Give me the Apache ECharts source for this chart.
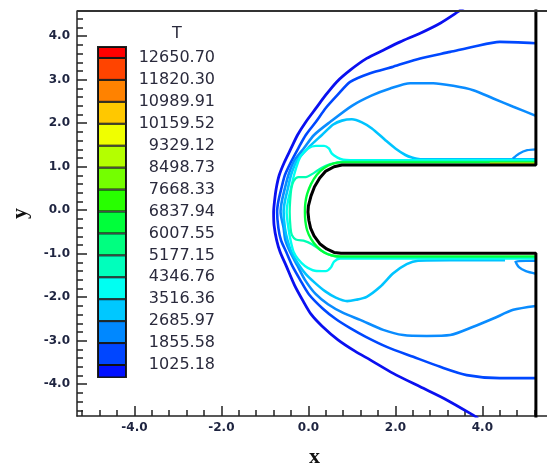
<!DOCTYPE html>
<html>
<head>
<meta charset="utf-8">
<script src="https://cdn.jsdelivr.net/npm/echarts@6/dist/echarts.min.js"></script>
<style>
  html, body { margin: 0; padding: 0; background: #fff; }
  #chart { width: 547px; height: 467px; }
</style>
</head>
<body>
<div id="chart"></div>
<script>
// Temperature contour levels shown on the colour bar (bottom to top)
const levels = [1025.18, 1855.58, 2685.97, 3516.36, 4346.76, 5177.15, 6007.55, 6837.94,
                7668.33, 8498.73, 9329.12, 10159.52, 10989.91, 11820.30, 12650.70];
// Colour of each band of the bar, bottom to top (one more than the levels)
const bandColors = ['#0010ff', '#0046ff', '#0088ff', '#00c8ff', '#00fff2', '#00ffbc', '#00ff80', '#00ff3a',
                    '#28ff00', '#74ff00', '#b4ff00', '#f0ff00', '#ffc800', '#ff8200', '#ff4400', '#ff0000'];
// Ends of the colour bar, in T
const barBottom = 571;
const barTop = 13066;

// Axis ticks
const xMajorTicks = [-4, -2, 0, 2, 4];
const xMinorTicks = [-5.2, -4.8, -4.4, -4.0, -3.6, -3.2, -2.8, -2.4, -2.0, -1.6, -1.2, -0.8, -0.4, 0,
                     0.4, 0.8, 1.2, 1.6, 2.0, 2.4, 2.8, 3.2, 3.6, 4.0, 4.4, 4.8, 5.2];
const yMajorTicks = [-4, -3, -2, -1, 0, 1, 2, 3, 4];
const yMinorTicks = [-4.6, -4.4, -4.2, -4.0, -3.8, -3.6, -3.4, -3.2, -3.0, -2.8, -2.6, -2.4, -2.2, -2.0,
                     -1.8, -1.6, -1.4, -1.2, -1.0, -0.8, -0.6, -0.4, -0.2, 0, 0.2, 0.4, 0.6, 0.8, 1.0,
                     1.2, 1.4, 1.6, 1.8, 2.0, 2.2, 2.4, 2.6, 2.8, 3.0, 3.2, 3.4, 3.6, 3.8, 4.0, 4.2, 4.4];

// Contour lines of T, as [x, y] points
const lineT1025 = [[3.67, 4.72], [3.45, 4.57], [3.03, 4.30], [2.57, 4.07], [2.11, 3.87], [1.72, 3.68],
  [1.34, 3.49], [0.96, 3.22], [0.65, 2.95], [0.40, 2.65], [0.17, 2.34], [-0.06, 2.03], [-0.25, 1.73],
  [-0.40, 1.42], [-0.55, 1.11], [-0.67, 0.81], [-0.74, 0.50], [-0.78, 0.20], [-0.80, -0.04],
  [-0.79, -0.34], [-0.73, -0.69], [-0.65, -0.96], [-0.51, -1.28], [-0.32, -1.72], [-0.12, -2.09],
  [0.06, -2.39], [0.31, -2.66], [0.68, -2.98], [1.07, -3.24], [1.42, -3.44], [1.95, -3.75],
  [2.57, -4.06], [3.18, -4.36], [3.79, -4.71], [3.90, -4.78]];
const lineT1856 = [[5.23, 3.84], [4.40, 3.87], [3.79, 3.76], [3.26, 3.64], [2.57, 3.49], [1.95, 3.30],
  [1.42, 3.15], [0.96, 2.95], [0.67, 2.65], [0.40, 2.35], [0.17, 2.03], [-0.06, 1.73], [-0.23, 1.43],
  [-0.39, 1.13], [-0.54, 0.81], [-0.62, 0.51], [-0.69, 0.21], [-0.72, -0.04], [-0.69, -0.41],
  [-0.63, -0.69], [-0.51, -0.96], [-0.37, -1.28], [-0.19, -1.60], [0.01, -1.93], [0.34, -2.27],
  [0.63, -2.50], [0.96, -2.71], [1.32, -2.91], [1.80, -3.14], [2.41, -3.37], [3.03, -3.60],
  [3.64, -3.79], [4.40, -3.86], [5.23, -3.86]];
const lineT2686 = [[5.23, 2.17], [4.71, 2.38], [4.25, 2.57], [3.79, 2.76], [3.33, 2.86], [2.87, 2.92],
  [2.34, 2.92], [1.88, 2.80], [1.46, 2.64], [1.00, 2.40], [0.50, 2.03], [0.13, 1.73], [-0.10, 1.43],
  [-0.33, 1.13], [-0.46, 0.81], [-0.54, 0.51], [-0.61, 0.21], [-0.64, -0.04], [-0.57, -0.41],
  [-0.53, -0.69], [-0.42, -0.96], [-0.25, -1.28], [-0.08, -1.60], [0.17, -1.93], [0.45, -2.16],
  [0.80, -2.36], [1.19, -2.52], [1.72, -2.75], [2.18, -2.87], [2.72, -2.89], [3.26, -2.87],
  [3.79, -2.68], [4.25, -2.49], [4.71, -2.29], [5.23, -2.20]];
const lineT3516 = [[5.23, 1.17], [4.68, 1.17], [2.57, 1.17], [2.38, 1.21], [2.23, 1.27], [2.00, 1.42],
  [1.77, 1.61], [1.46, 1.88], [1.23, 2.02], [1.00, 2.09], [0.77, 2.06], [0.57, 1.97], [0.31, 1.73],
  [-0.01, 1.43], [-0.27, 1.13], [-0.40, 0.81], [-0.47, 0.51], [-0.54, 0.21], [-0.57, -0.04],
  [-0.54, -0.41], [-0.48, -0.69], [-0.39, -0.96], [-0.25, -1.21], [-0.06, -1.47], [0.15, -1.67],
  [0.38, -1.86], [0.63, -2.01], [0.89, -2.09], [1.09, -2.06], [1.34, -1.99], [1.65, -1.76],
  [1.95, -1.45], [2.26, -1.24], [2.52, -1.16], [3.26, -1.15], [4.52, -1.15]];
// small closed pockets in the corners at the outflow wall
const pocketUpper = [[5.23, 1.40], [5.03, 1.38], [4.84, 1.30], [4.70, 1.19]];
const pocketLower = [[5.23, -1.16], [4.76, -1.18], [4.84, -1.31], [5.00, -1.40], [5.23, -1.46]];
const lineT4347 = [[5.23, 1.15], [0.96, 1.15], [0.80, 1.16], [0.67, 1.21], [0.54, 1.30], [0.47, 1.42],
  [0.36, 1.48], [0.17, 1.48], [-0.01, 1.42], [-0.16, 1.27], [-0.23, 1.13], [-0.33, 0.81], [-0.40, 0.51],
  [-0.47, 0.21], [-0.50, -0.04], [-0.46, -0.41], [-0.41, -0.69], [-0.34, -0.96], [-0.24, -1.12],
  [-0.08, -1.28], [0.15, -1.39], [0.40, -1.40], [0.52, -1.31], [0.59, -1.18], [0.73, -1.11],
  [0.96, -1.11], [5.23, -1.11]];
const lineT5177 = [[5.23, 1.12], [0.86, 1.12], [0.68, 1.10], [0.50, 1.06], [0.31, 0.98], [0.13, 0.86],
  [-0.06, 0.76], [-0.23, 0.76], [-0.34, 0.67], [-0.39, 0.51], [-0.42, 0.21], [-0.43, -0.04],
  [-0.41, -0.41], [-0.38, -0.57], [-0.29, -0.67], [-0.08, -0.71], [0.08, -0.78], [0.24, -0.89],
  [0.43, -1.00], [0.61, -1.06], [0.84, -1.08], [5.23, -1.08]];
const lineT6838 = [[5.23, 1.10], [0.77, 1.10], [0.57, 1.07], [0.36, 0.97], [0.19, 0.81], [0.06, 0.60],
  [-0.03, 0.37], [-0.07, 0.17], [-0.08, -0.04], [-0.07, -0.25], [-0.03, -0.46], [0.06, -0.66],
  [0.19, -0.83], [0.36, -0.97], [0.55, -1.04], [0.75, -1.06], [5.23, -1.06]];
const lineT10160 = [[4.17, 1.08], [5.23, 1.08]];

// Solid wall: outflow boundary and the blunt body
const wall = [[5.23, 4.9], [5.23, 1.04], [0.77, 1.04], [0.59, 1.00], [0.40, 0.90], [0.26, 0.74],
  [0.14, 0.54], [0.06, 0.33], [0.00, 0.10], [-0.01, -0.04], [0.01, -0.23], [0.05, -0.41], [0.13, -0.59],
  [0.26, -0.77], [0.42, -0.89], [0.59, -0.97], [0.75, -0.99], [5.23, -0.99], [5.23, -4.9]];

const chart = echarts.init(document.getElementById('chart'), null, { renderer: 'canvas' });

// plot area in pixels
const plotBox = { left: 77, top: 11, right: -5, bottom: 51 };
const xRange = { min: -5.32, max: 5.6 };
const yRange = { min: -4.73, max: 4.58 };

const tickFont = { fontFamily: 'DejaVu Sans', fontWeight: 'bold', fontSize: 12, color: '#1e2440' };
const nameFont = { fontFamily: 'Liberation Serif', fontWeight: 'bold', fontSize: 22, color: '#111' };
const fmt = v => Number(v).toFixed(1);

function contour(name, data, color, width) {
  return {
    name, type: 'line', data, xAxisIndex: 0, yAxisIndex: 0,
    symbol: 'none', smooth: 0.25, clip: true, silent: true,
    lineStyle: { color, width: width || 2.5 }
  };
}

// Stacked segments of the colour bar
const segments = bandColors.map((c, i) => {
  let v;
  if (i === 0) v = levels[0];
  else if (i < levels.length) v = levels[i] - levels[i - 1];
  else v = barTop - levels[levels.length - 1];
  return {
    type: 'bar', stack: 'bar', xAxisIndex: 2, yAxisIndex: 2, barWidth: '100%',
    data: [v], silent: true, clip: true,
    itemStyle: { color: c, borderColor: '#111', borderWidth: 1 }
  };
});

const option = {
  animation: false,
  backgroundColor: '#fff',
  grid: [
    { ...plotBox, show: false, containLabel: false, outerBoundsMode: 'none' },
    { left: 98, top: 47, width: 28, height: 330, show: true, borderColor: '#222', borderWidth: 2,
      backgroundColor: 'transparent', containLabel: false, outerBoundsMode: 'none' }
  ],
  xAxis: [
    { gridIndex: 0, type: 'value', ...xRange, position: 'bottom',
      name: 'x', nameLocation: 'middle', nameGap: 30, nameTextStyle: nameFont,
      axisLine: { show: true, onZero: false, lineStyle: { color: '#222', width: 1.5 } },
      axisTick: { show: true, inside: true, length: 10, customValues: xMajorTicks, lineStyle: { color: '#222', width: 1.5 } },
      axisLabel: { show: true, customValues: xMajorTicks, formatter: fmt, margin: 6, ...tickFont },
      splitLine: { show: false } },
    { gridIndex: 0, type: 'value', ...xRange, position: 'bottom',
      axisLine: { show: false, onZero: false },
      axisTick: { show: true, inside: true, length: 6, customValues: xMinorTicks, lineStyle: { color: '#222', width: 1.5 } },
      axisLabel: { show: false }, splitLine: { show: false } },
    { gridIndex: 1, type: 'category', data: ['T'], show: false }
  ],
  yAxis: [
    { gridIndex: 0, type: 'value', ...yRange, position: 'left',
      name: 'y', nameLocation: 'middle', nameGap: 46, nameTextStyle: nameFont,
      axisLine: { show: true, onZero: false, lineStyle: { color: '#222', width: 1.5 } },
      axisTick: { show: true, inside: true, length: 10, customValues: yMajorTicks, lineStyle: { color: '#222', width: 1.5 } },
      axisLabel: { show: true, customValues: yMajorTicks, formatter: fmt, margin: 7, ...tickFont },
      splitLine: { show: false } },
    { gridIndex: 0, type: 'value', ...yRange, position: 'left',
      axisLine: { show: false, onZero: false },
      axisTick: { show: true, inside: true, length: 6, customValues: yMinorTicks, lineStyle: { color: '#222', width: 1.5 } },
      axisLabel: { show: false }, splitLine: { show: false } },
    { gridIndex: 1, type: 'value', min: barBottom, max: barTop, position: 'right',
      axisLine: { show: false }, axisTick: { show: false }, splitLine: { show: false },
      axisLabel: { show: true, customValues: levels, formatter: v => Number(v).toFixed(2),
        align: 'right', margin: 89, fontFamily: 'DejaVu Sans', fontSize: 16, color: '#2a2a3c' } }
  ],
  graphic: [
    // top edge of the plot frame
    { type: 'rect', silent: true, z: 100,
      shape: { x: plotBox.left, y: plotBox.top - 1, width: 547 - plotBox.left, height: 2 },
      style: { fill: '#333', stroke: null } },
    { type: 'text', x: 177, y: 34, silent: true,
      style: { text: 'T', font: '16px "DejaVu Sans"', fill: '#2a2a3c', align: 'center', verticalAlign: 'middle' } }
  ],
  series: [
    contour('T 1025.18', lineT1025, '#0a10f0', 2.8),
    contour('T 1855.58', lineT1856, '#0048ff', 2.6),
    contour('T 2685.97', lineT2686, '#0a8cff', 2.6),
    contour('T 3516.36', lineT3516, '#00c4ff', 2.6),
    contour('pocket upper', pocketUpper, '#0a90ff', 2.4),
    contour('pocket lower', pocketLower, '#0a90ff', 2.4),
    contour('T 4346.76', lineT4347, '#00fff0', 2.4),
    contour('T 5177.15', lineT5177, '#00ffb4', 2.2),
    contour('T 6837.94', lineT6838, '#00ff3a', 2.4),
    contour('T 10159.52', lineT10160, '#d8e400', 1.6),
    { name: 'wall', type: 'line', data: wall, xAxisIndex: 0, yAxisIndex: 0, symbol: 'none',
      clip: true, silent: true, lineStyle: { color: '#000', width: 3 } },
    ...segments
  ]
};

chart.setOption(option);
</script>
</body>
</html>
